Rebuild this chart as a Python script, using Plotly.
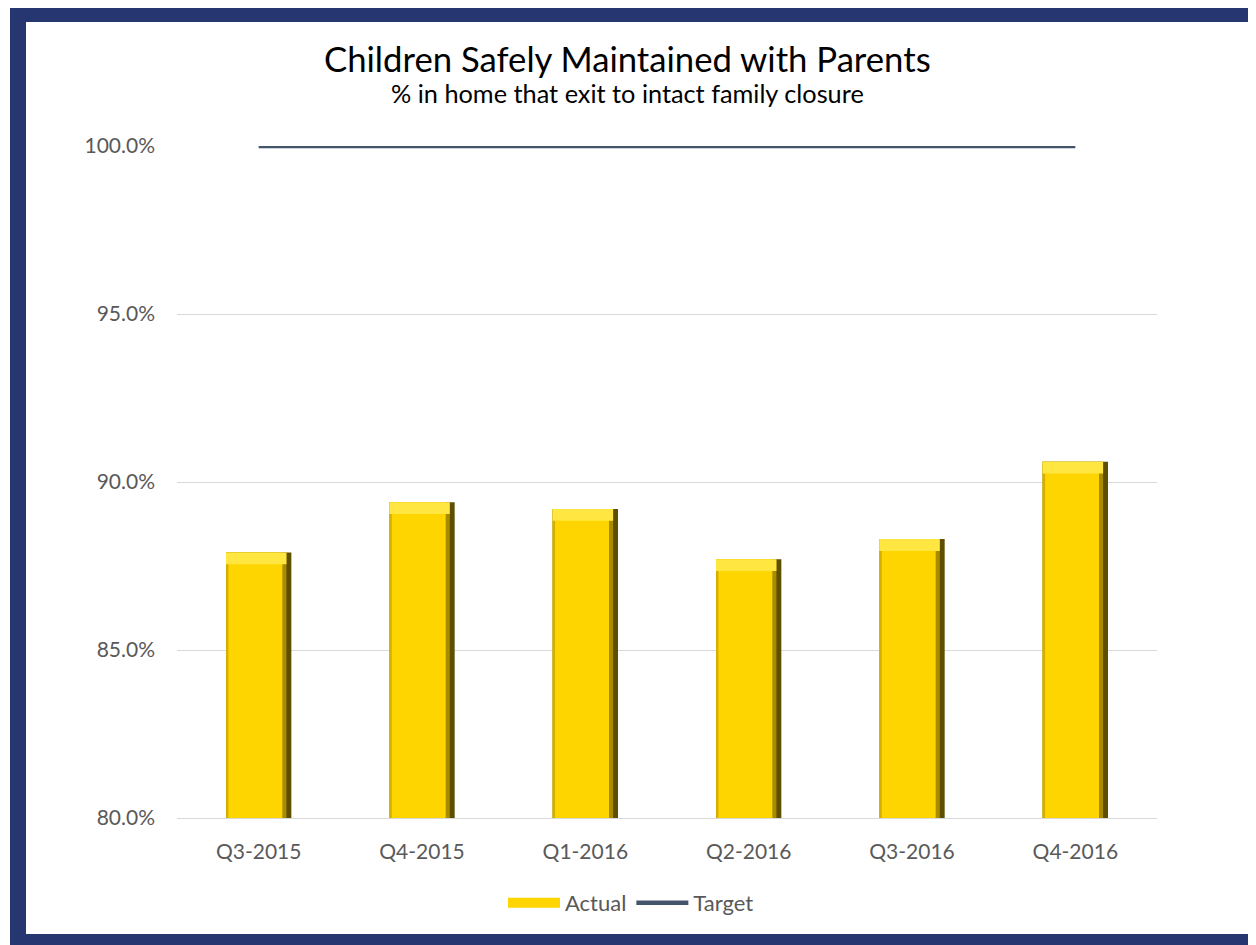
import plotly.graph_objects as go

quarters = ["Q3-2015", "Q4-2015", "Q1-2016", "Q2-2016", "Q3-2016", "Q4-2016"]
actual = [0.879, 0.894, 0.892, 0.877, 0.883, 0.906]
target = [1.0, 1.0, 1.0, 1.0, 1.0, 1.0]
y_ticks = [0.80, 0.85, 0.90, 0.95, 1.00]

FONT = "Lato"
GOLD = "#FFD500"
NAVY = "#253670"

fig = go.Figure()

bevel = 0.0035
# dark right-edge shadow (full width)
fig.add_trace(go.Bar(x=quarters, y=actual, width=0.4, marker=dict(color="#5E4E00", line=dict(width=0)),
                     showlegend=False, hoverinfo="skip"))
# transition band
fig.add_trace(go.Bar(x=quarters, y=actual, width=0.37, offset=-0.2,
                     marker=dict(color="#A88C00", line=dict(width=0)), showlegend=False, hoverinfo="skip"))
# main gold face
fig.add_trace(go.Bar(x=quarters, y=actual, width=0.345, offset=-0.2, name="Actual",
                     marker=dict(color=GOLD, line=dict(width=0)), showlegend=False))
# darker left edge
fig.add_trace(go.Bar(x=quarters, y=actual, width=0.015, offset=-0.2,
                     marker=dict(color="#D6B000", line=dict(width=0)), showlegend=False, hoverinfo="skip"))
# light top bevel
fig.add_trace(go.Bar(x=quarters, y=[bevel] * len(actual), base=[v - bevel for v in actual],
                     width=0.37, offset=-0.2, marker=dict(color="#FFE640", line=dict(width=0)),
                     showlegend=False, hoverinfo="skip"))

# legend entry for Actual (wide gold swatch)
fig.add_trace(go.Scatter(x=[None], y=[None], mode="lines", name="Actual",
                         line=dict(color=GOLD, width=12)))

fig.add_trace(go.Scatter(x=quarters, y=target, mode="lines", name="Target",
                         line=dict(color="#44546A", width=4.5)))

fig.update_layout(
    width=1256, height=945,
    barmode="overlay",
    paper_bgcolor="white", plot_bgcolor="white",
    margin=dict(l=169, r=107, t=138, b=135),
    font=dict(family=FONT, color="#595959"),
    showlegend=True,
    legend=dict(orientation="h", xref="container", yref="container", x=0.496, xanchor="center",
                y=0.053, yanchor="middle", font=dict(size=22, color="#595959", family=FONT),
                traceorder="normal", itemwidth=52),
    xaxis=dict(showgrid=False, showline=True, linecolor="#D9D9D9", linewidth=1,
               ticks="", tickfont=dict(size=21, color="#595959"), fixedrange=True,
               ticklabelstandoff=15),
    yaxis=dict(range=[0.80, 1.00], tickvals=y_ticks, tickformat=".1%", showgrid=True,
               gridcolor="#D9D9D9", gridwidth=1, zeroline=False, showline=False, ticks="",
               tickfont=dict(size=21, color="#595959"), ticklabelstandoff=21),
    annotations=[
        dict(text="Children Safely Maintained with Parents", xref="paper", yref="paper",
             x=0.4602, y=1.13, xanchor="center", yanchor="middle", showarrow=False,
             font=dict(size=34.7, color="#000000", family=FONT)),
        dict(text="% in home that exit to intact family closure", xref="paper", yref="paper",
             x=0.4602, y=1.0789, xanchor="center", yanchor="middle", showarrow=False,
             font=dict(size=25.3, color="#000000", family=FONT)),
    ],
    shapes=[
        dict(type="rect", xref="paper", yref="paper", layer="above",
             x0=(18 - 177) / 980, x1=(1272 - 177) / 980,
             y0=(818 - 942) / 672, y1=(818 - 14) / 672,
             line=dict(color=NAVY, width=16), fillcolor="rgba(0,0,0,0)"),
    ],
)

fig.write_html("out.html")
